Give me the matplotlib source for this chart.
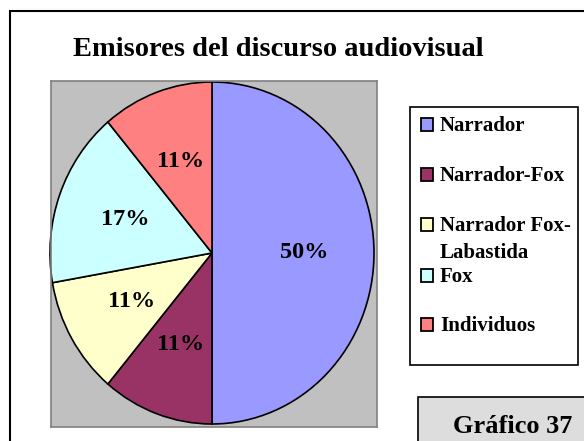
import matplotlib.pyplot as plt
from matplotlib.patches import Rectangle

plt.rcParams['font.family'] = ['Liberation Serif', 'DejaVu Serif']
plt.rcParams['font.weight'] = 'bold'

# emisores: number of fragments per speaker
emisores = ['Narrador', 'Narrador-Fox', 'Narrador Fox-\nLabastida', 'Fox', 'Individuos']
conteo = [9, 2, 2, 3, 2]
colores = ['#9999FF', '#993366', '#FFFFCC', '#CCFFFF', '#FF8080']

W, H = 584, 441


def fx(px):
    return px / W


def fy(py):
    return 1 - py / H


fig = plt.figure(figsize=(W / 100, H / 100), dpi=100)

# outer chart frame (runs off the right and bottom edge)
fig.add_artist(Rectangle((fx(9.5), fy(460)), fx(600) - fx(9.5), fy(11) - fy(460),
                         transform=fig.transFigure, fill=False, ec='black', lw=1.5))

fig.text(fx(278.5), fy(56), 'Emisores del discurso audiovisual', ha='center',
         va='baseline', fontsize=20.5, fontweight='bold')

# plot area
ax = fig.add_axes([fx(51), fy(427), fx(377) - fx(51), fy(81) - fy(427)])
wedges, texts, autotexts = ax.pie(conteo, colors=colores, startangle=90, counterclock=False,
                                  autopct='%1.0f%%', pctdistance=0.57,
                                  wedgeprops=dict(edgecolor='black', linewidth=1.2))
for t in autotexts:
    t.set_fontsize(17.5)
    t.set_fontweight('bold')
ax.set_aspect('auto')
ax.set_xlim(-(212 - 51) / 162, (377 - 212) / 162)
ax.set_ylim(-(427 - 253) / 171, (253 - 81) / 171)
ax.set_facecolor('#C0C0C0')
ax.set_frame_on(True)
for s in ax.spines.values():
    s.set_color('#808080')
    s.set_linewidth(1.2)
ax.set_xticks([])
ax.set_yticks([])

# legend box
fig.add_artist(Rectangle((fx(409.5), fy(365)), fx(578) - fx(409.5), fy(107) - fy(365),
                         transform=fig.transFigure, fc='white', ec='black', lw=1.2))
baselines = [131, 181, 231, 282, 331]
for nombre, color, base in zip(emisores, colores, baselines):
    fig.add_artist(Rectangle((fx(421), fy(base)), fx(433) - fx(421), fy(base - 13) - fy(base),
                             transform=fig.transFigure, fc=color, ec='black', lw=1.3))
    for i, linea in enumerate(nombre.split('\n')):
        fig.text(fx(440), fy(base + 27 * i), linea, ha='left', va='baseline',
                 fontsize=15, fontweight='bold')

# figure number box
fig.add_artist(Rectangle((fx(418), fy(460)), fx(600) - fx(418), fy(397) - fy(460),
                         transform=fig.transFigure, fc='#DDDDDD', ec='black', lw=1.2))
fig.text(fx(513), fy(433), 'Gráfico 37', ha='center', va='baseline',
         fontsize=19, fontweight='bold')

fig.savefig('out.png', dpi=100)
